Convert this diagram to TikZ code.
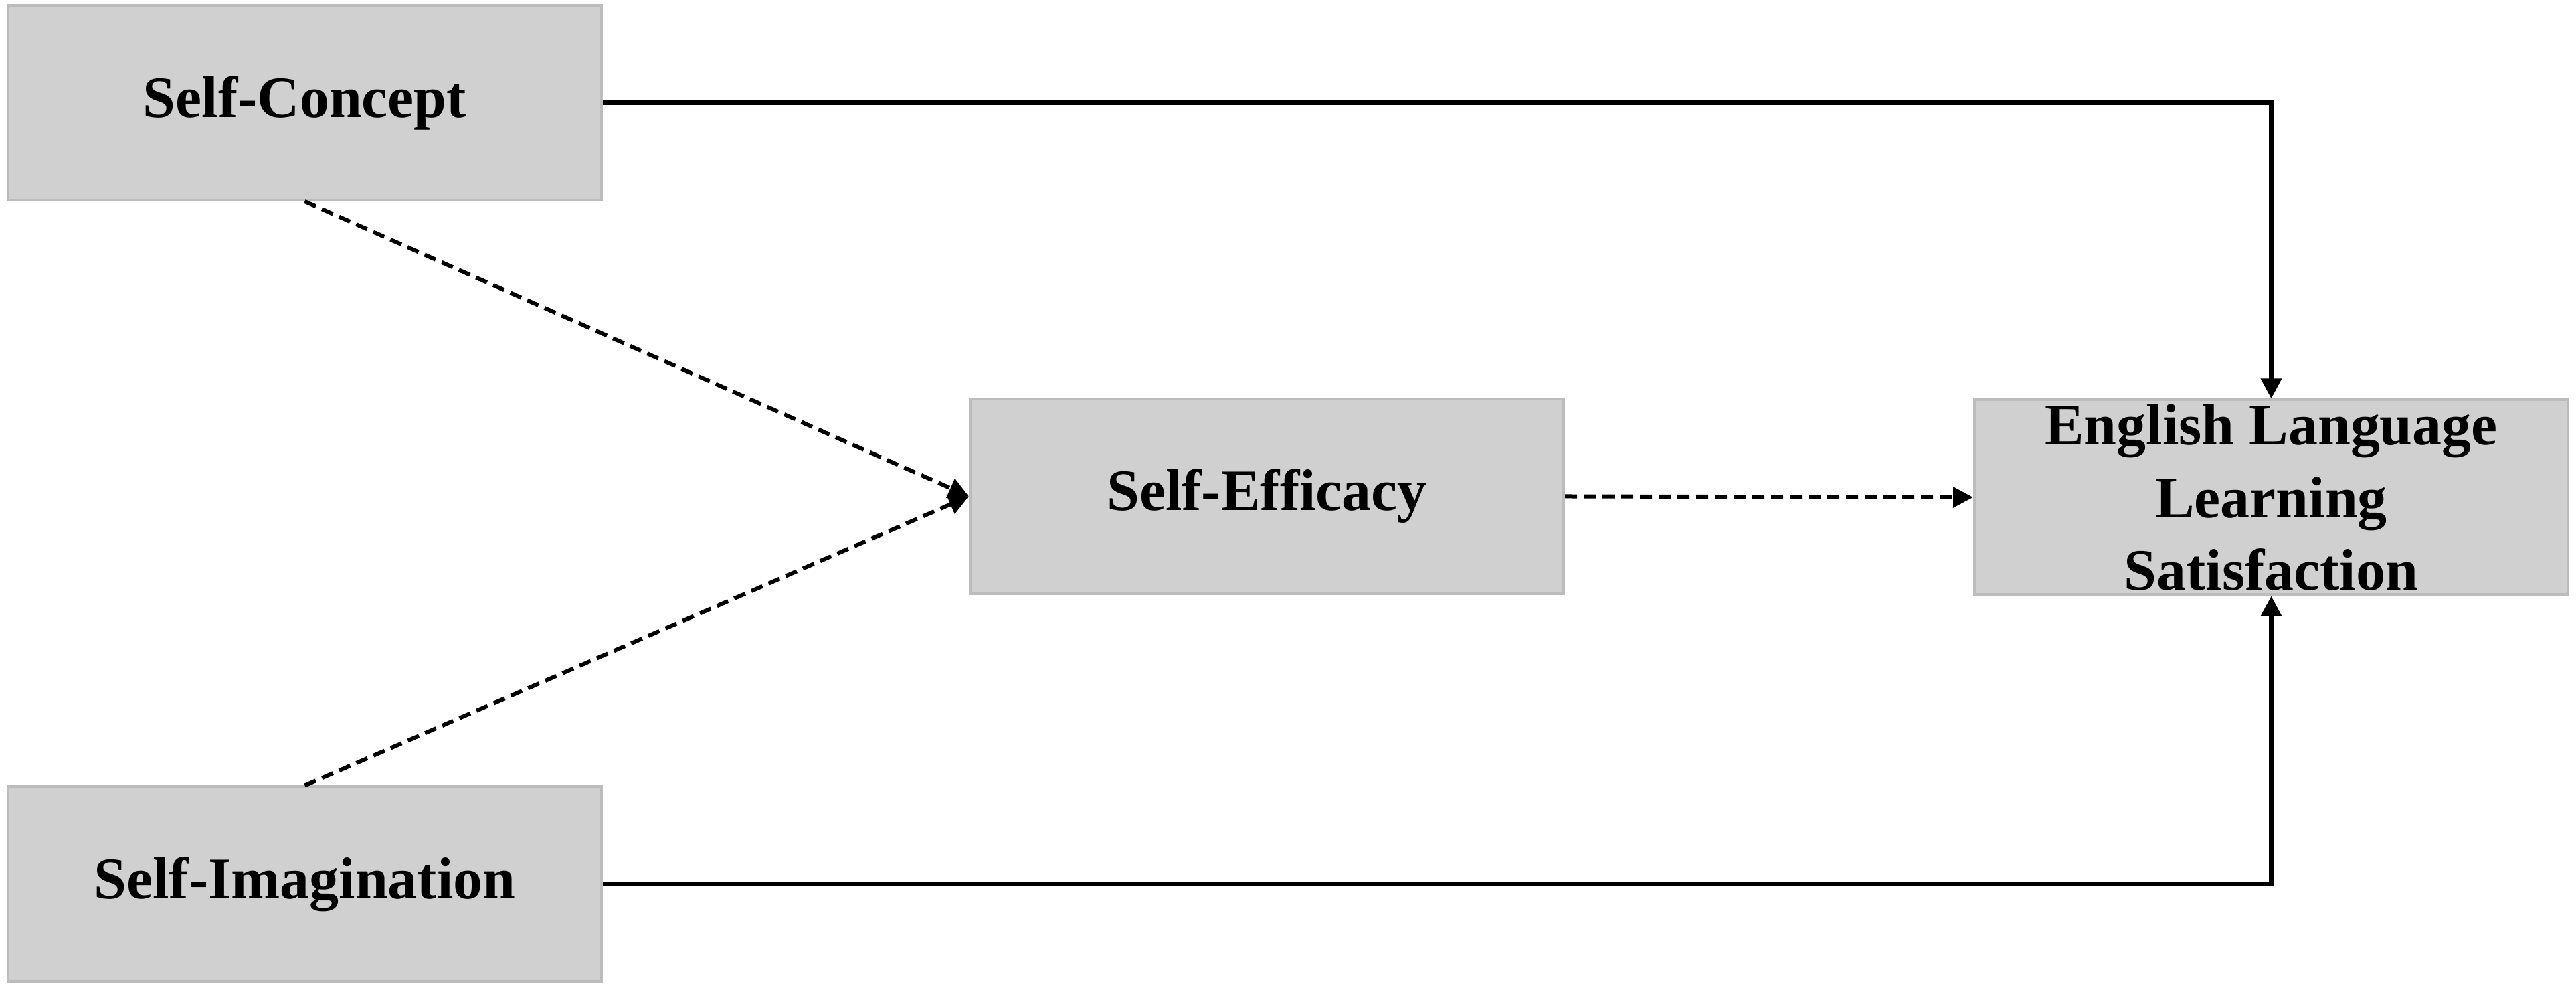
\documentclass[tikz,border=0pt]{standalone}
\usepackage{fontspec}
\setmainfont{Liberation Serif}
\usetikzlibrary{arrows.meta}
\definecolor{boxfill}{RGB}{208,208,208}
\definecolor{boxedge}{RGB}{188,188,188}
\tikzset{
  varbox/.style={rectangle, fill=boxfill, draw=boxedge, line width=0.04cm,
    minimum width=8.87cm, minimum height=2.91cm, inner sep=0pt, align=center,
    font=\fontsize{25}{31}\selectfont\bfseries},
  direct/.style={line width=0.065cm, -{Triangle[length=0.3cm,width=0.3cm]}},
  indirect/.style={line width=0.06cm, dash pattern=on 0.18cm off 0.1cm,
    -{Triangle[length=0.3cm,width=0.3cm]}}
}
\begin{document}
\begin{tikzpicture}
\useasboundingbox (0,0) rectangle (38.5,14.79);
\node[varbox] (sc) at (4.555,13.255) {Self-Concept};
\node[varbox] (se) at (18.935,7.375) {Self-Efficacy};
\node[varbox] (el) at (33.945,7.36) {English Language\\Learning\\Satisfaction};
\node[varbox] (si) at (4.555,1.58) {Self-Imagination};
\draw[direct] (sc.east) -| (el.north);
\draw[direct] (si.east) -| (el.south);
\draw[indirect] (sc.south) -- (se.west);
\draw[indirect] (si.north) -- (se.west);
\draw[indirect] (se.east) -- (el.west);
\end{tikzpicture}
\end{document}
